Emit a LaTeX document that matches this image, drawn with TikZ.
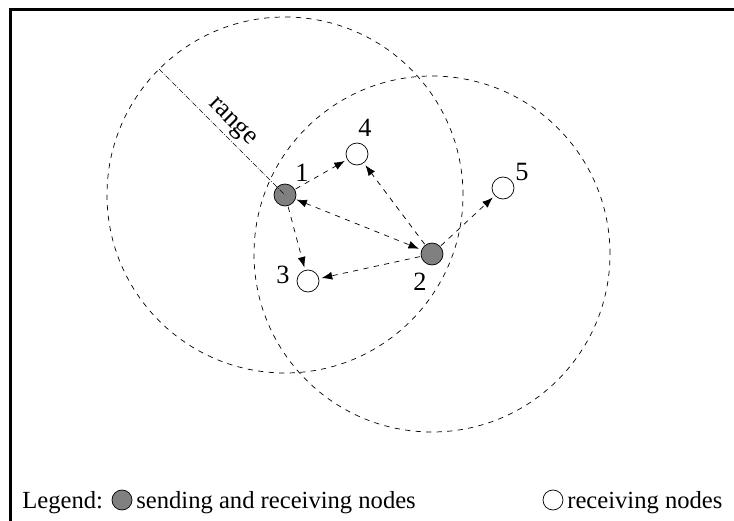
\documentclass[tikz,border=0pt]{standalone}
\usepackage{fontspec}
\setmainfont{Liberation Serif}
\usetikzlibrary{arrows.meta}
\begin{document}
\begin{tikzpicture}[>={Latex[length=6pt,width=4.5pt]},
    sender/.style={draw, circle, fill=gray, minimum size=0.44cm, inner sep=0pt},
    receiver/.style={draw, circle, fill=white, minimum size=0.44cm, inner sep=0pt},
    lbl/.style={font=\fontsize{15}{18}\selectfont, inner sep=0pt},
    legendtext/.style={font=\fontsize{14}{17}\selectfont, inner sep=0pt, anchor=base west},
    link/.style={dashed, ->, shorten >=1.5pt, shorten <=0.5pt}]
    \useasboundingbox (0,0) rectangle (14.68,-10.42);
    % Frame
    \draw[line width=0.06cm] (0.21,-10.42) -- (0.21,-0.19) -- (14.68,-0.19);

    % Nodes
    \node[sender] at (5.7, -3.9) (n1) {};
    \node[sender] at (8.64, -5.08) (n2) {};
    \node[receiver] at (6.16, -5.62) (n3) {};
    \node[receiver] at (7.14, -3.08) (n4) {};
    \node[receiver] at (10.06, -3.76) (n5) {};

    % Labels
    \node[lbl] at (6.04, -3.46) (l1) {1};
    \node[lbl] at (8.4, -5.64) (l2) {2};
    \node[lbl] at (5.66, -5.5) (l3) {3};
    \node[lbl] at (7.3, -2.56) (l4) {4};
    \node[lbl] at (10.44, -3.44) (l5) {5};

    % Ranges
    \draw[dashed] (n1.center) circle (3.56);
    \draw[dashed] (n2.center) circle (3.56);
    \coordinate (rim) at (3.18, -1.38);
    \draw[densely dashdotted] (rim) -- node[lbl, sloped, above=2pt] (rng) {range} (n1.center);

    % Edges
    \draw[link] (n1) -- (n4);
    \draw[link] (n2) -- (n4);
    \draw[link, <->] (n1) -- (n2);
    \draw[link] (n1) -- (n3);
    \draw[link] (n2) -- (n3);
    \draw[link] (n2) -- (n5);

    % Legend
    \node[legendtext] at (0.44, -10.16) (leg) {Legend:};
    \node[sender, minimum size=0.4cm] at (2.44, -10.0) (legs) {};
    \node[legendtext] at (2.72, -10.16) (legst) {sending and receiving nodes};
    \node[receiver, minimum size=0.4cm] at (11.06, -10.0) (legr) {};
    \node[legendtext] at (11.34, -10.16) (legrt) {receiving nodes};
\end{tikzpicture}
\end{document}
